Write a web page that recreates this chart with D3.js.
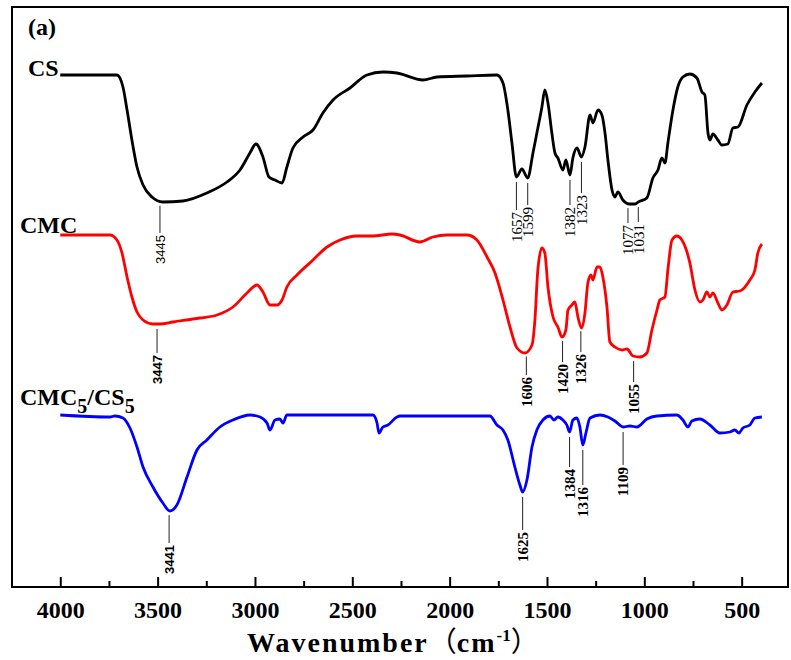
<!DOCTYPE html>
<html>
<head>
<meta charset="utf-8">
<script src="https://cdn.jsdelivr.net/npm/d3@7"></script>
<style>
  body { margin: 0; background: #fff; }
  svg { display: block; }
</style>
</head>
<body>
<svg width="791" height="660"></svg>
<script>
// FTIR spectra: CS, CMC and the CMC5/CS5 blend (stacked, transmittance in a.u.)
// [wavenumber, transmittance]
let csData = [
    [4000, 512], [3709, 512], [3678, 500], [3657, 477], [3632, 447], [3606, 420], [3575, 402], [3529, 390],
    [3473, 385], [3370, 386], [3247, 394], [3144, 405], [3077, 417], [3026, 434], [2995, 443], [2959, 430],
    [2928, 410], [2897, 407], [2861, 404], [2836, 420], [2805, 439], [2753, 450], [2702, 457], [2651, 474],
    [2599, 487], [2512, 499], [2425, 512], [2343, 515], [2271, 514], [2137, 507], [2065, 510], [1911, 511],
    [1757, 512], [1726, 504], [1701, 477], [1680, 444], [1657, 410], [1629, 418], [1599, 409], [1572, 434],
    [1552, 454], [1526, 480], [1511, 497], [1495, 484], [1475, 454], [1459, 434], [1444, 429], [1418, 417],
    [1403, 427], [1382, 412], [1367, 429], [1346, 439], [1323, 430], [1305, 440], [1279, 472], [1264, 464],
    [1238, 477], [1218, 472], [1202, 454], [1187, 427], [1166, 397], [1151, 390], [1136, 395], [1110, 387],
    [1077, 383], [1048, 383], [1031, 385], [987, 389], [956, 409], [930, 417], [910, 429], [894, 424],
    [879, 444], [853, 477], [828, 500], [802, 510], [766, 513], [730, 509], [704, 495], [689, 492],
    [673, 454], [663, 447], [648, 453], [622, 447], [602, 442], [571, 443], [545, 459], [519, 460],
    [473, 482], [432, 495], [396, 504]
];

let cmcData = [
    [4000, 352], [3745, 352], [3709, 347], [3683, 334], [3657, 310], [3632, 290], [3606, 275], [3575, 267],
    [3524, 263], [3488, 263], [3421, 265], [3283, 269], [3195, 272], [3113, 280], [3041, 294], [2990, 302],
    [2959, 295], [2923, 282], [2887, 282], [2861, 287], [2836, 300], [2784, 312], [2702, 327], [2630, 340],
    [2563, 347], [2476, 351], [2394, 351], [2296, 353], [2255, 352], [2153, 345], [2086, 350], [2014, 352],
    [1911, 352], [1860, 347], [1808, 330], [1767, 314], [1726, 287], [1690, 260], [1654, 239], [1613, 234],
    [1577, 242], [1562, 267], [1547, 317], [1526, 339], [1511, 334], [1495, 300], [1469, 270], [1444, 260],
    [1423, 250], [1403, 257], [1392, 277], [1372, 282], [1357, 285], [1341, 270], [1323, 259], [1305, 274],
    [1290, 304], [1274, 312], [1264, 307], [1243, 320], [1228, 320], [1213, 310], [1192, 280], [1177, 245],
    [1151, 240], [1115, 237], [1089, 238], [1059, 231], [1023, 230], [987, 234], [961, 257], [935, 277],
    [920, 287], [894, 290], [879, 317], [858, 347], [833, 351], [807, 347], [766, 324], [740, 297],
    [715, 285], [699, 287], [679, 295], [663, 290], [648, 294], [622, 284], [602, 277], [576, 282],
    [545, 295], [509, 296], [458, 307], [432, 317], [417, 334], [396, 343]
];

let blendData = [
    [4000, 172], [3745, 170], [3719, 171], [3678, 169], [3642, 159], [3606, 140], [3575, 120], [3524, 100],
    [3473, 84], [3437, 76], [3401, 82], [3349, 110], [3298, 137], [3247, 147], [3180, 160], [3113, 167],
    [3026, 172], [2974, 170], [2938, 164], [2923, 157], [2897, 167], [2872, 168], [2856, 164], [2836, 172],
    [2394, 172], [2373, 164], [2363, 154], [2343, 160], [2317, 162], [2271, 170], [2255, 171], [1793, 171],
    [1757, 162], [1726, 157], [1701, 147], [1665, 120], [1639, 102], [1625, 95], [1603, 107], [1577, 140],
    [1552, 157], [1521, 167], [1485, 171], [1464, 167], [1444, 170], [1418, 167], [1398, 162], [1384, 155],
    [1367, 167], [1346, 169], [1331, 160], [1316, 142], [1300, 154], [1279, 169], [1228, 172], [1187, 170],
    [1151, 166], [1109, 160], [1074, 161], [1038, 160], [987, 168], [935, 171], [833, 172], [802, 167],
    [776, 160], [756, 166], [715, 168], [663, 162], [612, 154], [560, 155], [535, 157], [514, 154],
    [494, 159], [458, 162], [432, 169], [396, 170]
];

// peak marks: label, wavenumber where the mark stands, end of the leader line (a.u.)
let csPeaks = [
    {label: "3445", wn: 3488, end: 354, sans: true},
    {label: "1657", wn: 1657, end: 377}, {label: "1599", wn: 1599, end: 382},
    {label: "1382", wn: 1382, end: 382}, {label: "1323", wn: 1323, end: 394},
    {label: "1077", wn: 1084, end: 364}, {label: "1031", wn: 1031, end: 365}
];
let cmcPeaks = [
    {label: "3447", wn: 3503, end: 234, sans: true},
    {label: "1606", wn: 1606, end: 212}, {label: "1420", wn: 1420, end: 225},
    {label: "1326", wn: 1326, end: 235}, {label: "1055", wn: 1055, end: 205}
];
let blendPeaks = [
    {label: "3441", wn: 3441, end: 44, sans: true},
    {label: "1625", wn: 1625, end: 57}, {label: "1384", wn: 1384, end: 120},
    {label: "1316", wn: 1316, end: 102}, {label: "1109", wn: 1109, end: 122}
];

let majorTicks = [4000, 3500, 3000, 2500, 2000, 1500, 1000, 500];
let minorTicks = [3750, 3250, 2750, 2250, 1750, 1250, 750];

let svg = d3.select("svg");
let frameLeft = 12, frameRight = 788, frameTop = 7, frameBottom = 587;
let serif = "'Liberation Serif','Times New Roman',serif";

//x轴: 波数从大到小
let x = d3.scaleLinear().domain([4248, 262]).range([frameLeft, frameRight]);
let y = d3.scaleLinear().domain([0, 580]).range([frameBottom, frameTop]);

//外框
svg.append("rect")
    .attr("x", frameLeft).attr("y", frameTop)
    .attr("width", frameRight - frameLeft).attr("height", frameBottom - frameTop)
    .attr("fill", "none").attr("stroke", "#000").attr("stroke-width", 2);

//主刻度
let axisMajor = svg.append("g")
    .attr("transform", "translate(0," + frameBottom + ")")
    .call(d3.axisBottom(x).tickValues(majorTicks).tickSize(-10).tickPadding(14).tickFormat(d3.format("d")));
axisMajor.select(".domain").remove();
axisMajor.selectAll("line").attr("stroke-width", 2);
axisMajor.selectAll("text")
    .style("font-family", serif).style("font-size", "24px").style("font-weight", "bold").attr("fill", "#000");

//次刻度
let axisMinor = svg.append("g")
    .attr("transform", "translate(0," + frameBottom + ")")
    .call(d3.axisBottom(x).tickValues(minorTicks).tickSize(-6).tickFormat(""));
axisMinor.select(".domain").remove();
axisMinor.selectAll("line").attr("stroke-width", 2);

//坐标轴标题
let title = svg.append("text")
    .attr("x", 247).attr("y", 652)
    .style("font-family", serif).style("font-size", "28px").style("font-weight", "bold")
    .style("letter-spacing", "2px");
title.append("tspan").text("Wavenumber");
title.append("tspan").style("font-family", "'Noto Sans CJK SC'").style("font-weight", "normal")
    .style("letter-spacing", "0px").text("（");
title.append("tspan").text("cm");
title.append("tspan").attr("dy", -11).style("font-size", "17px").style("letter-spacing", "0px").text("-1");
title.append("tspan").attr("dy", 11).style("font-family", "'Noto Sans CJK SC'").style("font-weight", "normal")
    .style("letter-spacing", "0px").text("）");

svg.append("text")
    .attr("x", 28).attr("y", 35)
    .style("font-family", serif).style("font-size", "24px").style("font-weight", "bold")
    .text("(a)");

let line = d3.line()
    .x(d => x(d[0]))
    .y(d => y(d[1]))
    .curve(d3.curveMonotoneX);

let series = [
    {data: csData, peaks: csPeaks, color: "#000000", bold: false},
    {data: cmcData, peaks: cmcPeaks, color: "#ff0000", bold: true},
    {data: blendData, peaks: blendPeaks, color: "#0000ff", bold: true}
];

/**
 * 取曲线在某波数处的值(线性插值)
 */
function valueAt(data, wn) {
    for (let i = 1; i < data.length; i++) {
        if (data[i][0] <= wn) {
            let a = data[i - 1], b = data[i];
            let t = (a[0] - wn) / (a[0] - b[0]);
            return a[1] + (b[1] - a[1]) * t;
        }
    }
    return data[data.length - 1][1];
}

series.forEach(s => {
    svg.append("path")
        .datum(s.data)
        .attr("fill", "none")
        .attr("stroke", s.color)
        .attr("stroke-width", 2.8)
        .attr("stroke-linejoin", "round")
        .attr("d", line);

    //峰位标注
    let g = svg.append("g").selectAll("g")
        .data(s.peaks)
        .enter()
        .append("g");
    g.append("line")
        .attr("x1", d => x(d.wn)).attr("x2", d => x(d.wn))
        .attr("y1", d => y(valueAt(s.data, d.wn)) + 5)
        .attr("y2", d => y(d.end))
        .attr("stroke", "#222").attr("stroke-width", 1);
    g.append("text")
        .attr("transform", d => "translate(" + x(d.wn) + "," + (y(d.end) + 2) + ") rotate(-90)")
        .attr("text-anchor", "end")
        .attr("dy", "0.35em")
        .style("font-family", d => d.sans ? "'Liberation Sans',Arial,sans-serif" : serif)
        .style("font-size", d => d.sans ? "13px" : "15px")
        .style("font-weight", s.bold ? "bold" : "normal")
        .text(d => d.label);
});

//曲线名称
svg.append("text")
    .attr("x", 28).attr("y", 76)
    .style("font-family", serif).style("font-size", "24px").style("font-weight", "bold")
    .text("CS");
svg.append("text")
    .attr("x", 20).attr("y", 233)
    .style("font-family", serif).style("font-size", "24px").style("font-weight", "bold")
    .text("CMC");
let blendLabel = svg.append("text")
    .attr("x", 20).attr("y", 405)
    .style("font-family", serif).style("font-size", "24px").style("font-weight", "bold");
blendLabel.append("tspan").text("CMC");
blendLabel.append("tspan").attr("dy", 8).style("font-size", "20px").text("5");
blendLabel.append("tspan").attr("dy", -8).text("/CS");
blendLabel.append("tspan").attr("dy", 8).style("font-size", "20px").text("5");
</script>
</body>
</html>
